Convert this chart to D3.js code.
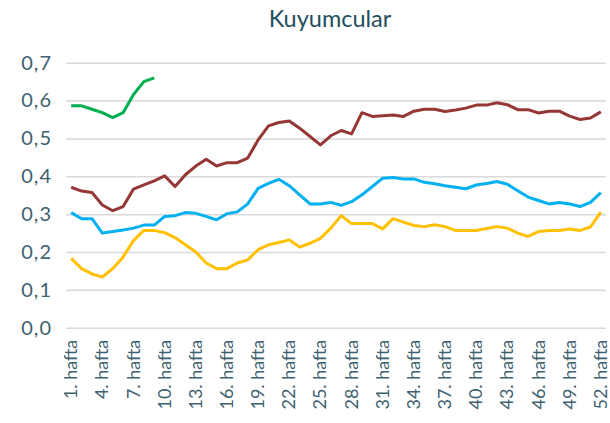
<!DOCTYPE html>
<html><head><meta charset="utf-8">
<script src="https://cdn.jsdelivr.net/npm/d3@7"></script>
<style>body{margin:0;background:#fff}svg{display:block}</style>
</head><body>
<svg id="c" width="610" height="423"></svg>
<script>
(function(){
const weeks = d3.range(1, 53).map(w => w + ". hafta");
const tickLabels = weeks.filter((d, i) => i % 3 === 0);
const yTicks = [0, 0.1, 0.2, 0.3, 0.4, 0.5, 0.6, 0.7];
const greenSeries = [0.586,0.586,0.577,0.568,0.555,0.568,0.616,0.650,0.660];
const redSeries = [0.371,0.361,0.357,0.324,0.309,0.320,0.366,0.377,0.388,0.401,
  0.373,0.404,0.427,0.445,0.427,0.436,0.436,0.448,0.496,0.533,
  0.542,0.546,0.527,0.505,0.483,0.507,0.521,0.512,0.568,0.558,
  0.560,0.562,0.558,0.572,0.577,0.577,0.571,0.575,0.580,0.588,
  0.588,0.594,0.589,0.576,0.576,0.567,0.572,0.572,0.559,0.550,0.554,0.570];
const blueSeries = [0.304,0.288,0.288,0.250,0.254,0.258,0.263,0.271,0.271,0.294,
  0.296,0.304,0.302,0.294,0.285,0.301,0.306,0.327,0.368,0.381,
  0.392,0.375,0.351,0.327,0.327,0.331,0.323,0.333,0.351,0.373,
  0.395,0.397,0.393,0.393,0.384,0.380,0.375,0.371,0.367,0.377,
  0.381,0.386,0.379,0.362,0.345,0.336,0.327,0.331,0.327,0.320,0.331,0.357];
const yellowSeries = [0.183,0.156,0.142,0.134,0.156,0.187,0.230,0.257,0.257,0.251,
  0.238,0.219,0.200,0.171,0.156,0.156,0.171,0.179,0.206,0.219,
  0.225,0.232,0.213,0.223,0.236,0.263,0.296,0.275,0.275,0.275,
  0.261,0.288,0.279,0.270,0.267,0.272,0.267,0.257,0.257,0.257,
  0.262,0.267,0.263,0.250,0.241,0.254,0.257,0.257,0.261,0.257,0.266,0.305];
const seriesList = [
  {values: redSeries, color: "#953735"},
  {values: blueSeries, color: "#00B0F0"},
  {values: yellowSeries, color: "#FFC000"},
  {values: greenSeries, color: "#00B050"}
];

const svg = d3.select("#c");
const mL = 66, mR = 606, mT = 62.7, mB = 327.7;
const x = d3.scaleBand().domain(weeks).range([mL, mR]);
const y = d3.scaleLinear().domain([0, 0.7]).range([mB, mT]);
const txt = "#3E6170";
const font = "Lato, 'Open Sans', sans-serif";

svg.append("text").attr("x", 330).attr("y", 27).attr("text-anchor", "middle")
  .attr("font-family", font).attr("font-size", 23.5).attr("fill", "#1F4F5F").text("Kuyumcular");

const gy = svg.append("g").attr("transform", `translate(${mL},0)`)
  .call(d3.axisLeft(y).tickValues(yTicks).tickSize(-(mR-mL)).tickPadding(14)
    .tickFormat(d => d3.format(".1f")(d).replace(".", ",")));
gy.select(".domain").remove();
gy.selectAll(".tick line").attr("stroke", "#D9D9D9").attr("stroke-width", 1.5);
gy.selectAll(".tick text").attr("fill", txt).attr("font-family", font).attr("font-size", 20)
  .attr("letter-spacing", 1);

const gx = svg.append("g").attr("transform", `translate(0,${mB})`)
  .call(d3.axisBottom(x).tickValues(tickLabels).tickSize(0).tickPadding(0));
gx.select(".domain").remove();
gx.selectAll(".tick text").attr("fill", txt).attr("font-family", font).attr("font-size", 18)
  .attr("text-anchor", "end").attr("dy", null).attr("y", 0)
  .attr("transform", "translate(6,12) rotate(-90)");

const line = d3.line().x((d, i) => x(weeks[i]) + x.bandwidth() / 2).y(d => y(d));
seriesList.forEach(s => {
  svg.append("path").datum(s.values).attr("d", line).attr("fill", "none")
    .attr("stroke", s.color).attr("stroke-width", 3).attr("stroke-linejoin", "round");
});
})();
</script>
</body></html>
